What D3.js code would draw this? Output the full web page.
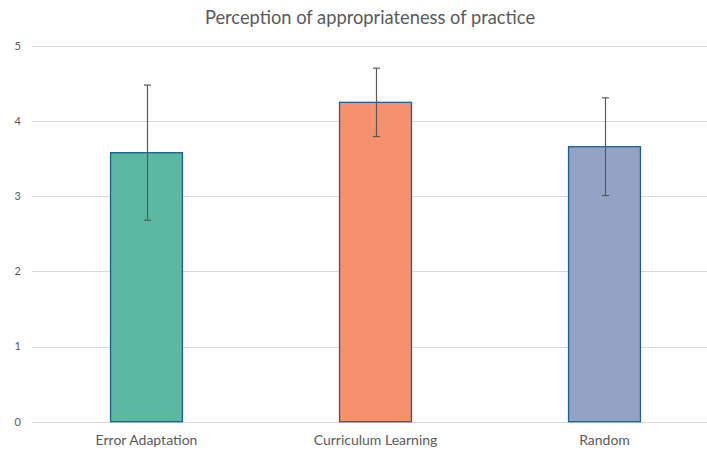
<!DOCTYPE html>
<html><head><meta charset="utf-8">
<script src="https://cdn.jsdelivr.net/npm/d3@7"></script>
<style>body{margin:0;background:#fff;} text{font-family:"Lato","Open Sans",sans-serif;}</style>
</head><body><svg id="c" width="707" height="450"></svg>
<script>
const categories = ["Error Adaptation", "Curriculum Learning", "Random"];
const means = [3.58, 4.25, 3.66];
const errors = [0.90, 0.455, 0.65];
const colors = ["#5BB9A2", "#F7916D", "#92A3C6"];
const yTicks = [0, 1, 2, 3, 4, 5];
const title = "Perception of appropriateness of practice";

const svg = d3.select("#c");
const x = d3.scaleBand().domain(categories).range([32, 719]);
const y = d3.scaleLinear().domain([0, 5]).range([421.7, 46]);
const barW = x.bandwidth() * 0.314;

// gridlines
svg.append("g").selectAll("line").data(yTicks).join("line")
  .attr("x1", 32).attr("x2", 707)
  .attr("y1", d => Math.round(y(d)) + 0.5).attr("y2", d => Math.round(y(d)) + 0.5)
  .attr("stroke", "#D9D9D9").attr("stroke-width", 1);

// y tick labels
svg.append("g").selectAll("text").data(yTicks).join("text")
  .attr("x", 21).attr("y", d => y(d)).attr("dy", "0.35em")
  .attr("text-anchor", "end").attr("font-size", 11).attr("fill", "#595959")
  .text(d => d);

// bars
svg.append("g").selectAll("rect").data(categories).join("rect")
  .attr("x", d => x(d) + x.bandwidth()/2 - barW/2)
  .attr("y", (d, i) => y(means[i]))
  .attr("width", barW)
  .attr("height", (d, i) => y(0) - y(means[i]))
  .attr("fill", (d, i) => colors[i])
  .attr("stroke", "#1F5F8B").attr("stroke-width", 1.3);

// error bars
const eg = svg.append("g").attr("stroke", "#595959").attr("stroke-width", 1.2);
categories.forEach((c, i) => {
  const cx = Math.round(x(c) + x.bandwidth()/2) + 0.5;
  const top = y(means[i] + errors[i]), bot = y(means[i] - errors[i]);
  eg.append("line").attr("x1", cx).attr("x2", cx).attr("y1", top).attr("y2", bot);
  eg.append("line").attr("x1", cx - 3.5).attr("x2", cx + 3.5).attr("y1", top).attr("y2", top);
  eg.append("line").attr("x1", cx - 3.5).attr("x2", cx + 3.5).attr("y1", bot).attr("y2", bot);
});

// x labels
svg.append("g").selectAll("text").data(categories).join("text")
  .attr("x", d => x(d) + x.bandwidth()/2).attr("y", 445)
  .attr("text-anchor", "middle").attr("font-size", 14).attr("fill", "#595959")
  .text(d => d);

// title
svg.append("text").attr("x", 370).attr("y", 24)
  .attr("text-anchor", "middle").attr("font-size", 18.3).attr("fill", "#595959")
  .text(title);
</script></body></html>
